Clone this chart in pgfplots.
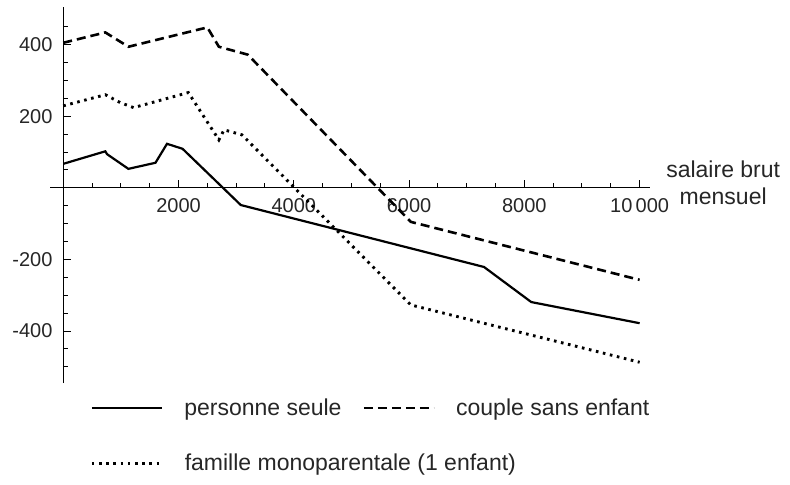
\documentclass[border=0pt]{standalone}
\usepackage{fontspec}
\setmainfont{Liberation Sans}
\usepackage{pgfplots}
\pgfplotsset{compat=1.18}
\begin{document}
\fontsize{20bp}{24bp}\selectfont
\begin{tikzpicture}
\begin{axis}[
  at={(50bp,102bp)}, anchor=south west,
  width=600bp, height=376bp, scale only axis,
  axis lines=middle,
  axis line style={-, line width=1.1bp, black},
  xmin=-230, xmax=10180, ymin=-545, ymax=505,
  scaled x ticks=false, scaled y ticks=false,
  xtick={2000,4000,6000,8000,10000},
  xticklabels={2000,4000,6000,8000,10\,000},
  minor xtick={500,1000,...,9500},
  ytick={-400,-200,200,400},
  yticklabels={-400,-200,200,400},
  minor ytick={-500,-450,...,450},
  tick align=center,
  major tick length=8bp, minor tick length=5bp,
  tick style={line width=1bp, black},
  major x tick style={yshift=4bp},
  minor x tick style={yshift=2.5bp},
  major y tick style={xshift=4bp},
  minor y tick style={xshift=2.5bp},
  ticklabel style={font=\fontsize{20bp}{22bp}\selectfont, text=black!85},
  xlabel={salaire brut\\mensuel},
  xlabel style={at={(axis description cs:1.122,0.532)}, anchor=center, align=center, font=\fontsize{23bp}{27bp}\selectfont, text=black!85},
  legend columns=2,
  legend style={at={(axis description cs:0.062,-0.035)}, anchor=north west, draw=none, fill=none,
    font=\fontsize{23bp}{27bp}\selectfont, text=black!85,
    nodes={inner sep=0pt, anchor=base west}, column sep=21bp, row sep=36bp},
  legend image code/.code={\draw[#1] (0bp,7bp) -- (70bp,7bp);},
]
\addplot[black, line width=2.2bp] coordinates {
(0,67) (730,102) (760,94) (1130,53) (1600,70) (1800,123) (2070,109)
(3080,-48) (7300,-221) (8120,-319) (10000,-378)};
\addlegendentry{personne seule}
\addplot[black, line width=2.6bp, dash pattern=on 9bp off 5bp] coordinates {
(0,405) (730,434) (1130,394) (2500,448) (2700,394) (3200,372) (6030,-95) (10000,-257)};
\addlegendentry{couple sans enfant}
\addplot[black, line width=2.9bp, dash pattern=on 2.6bp off 4.6bp] coordinates {
(0,229) (730,260) (990,238) (1220,224) (2170,266) (2700,134) (2790,162)
(3100,148) (6030,-327) (10000,-487)};
\addlegendentry{\rlap{famille monoparentale (1 enfant)}}
\end{axis}
\pgfresetboundingbox
\useasboundingbox (0,0) rectangle (790bp,485bp);
\end{tikzpicture}
\end{document}
